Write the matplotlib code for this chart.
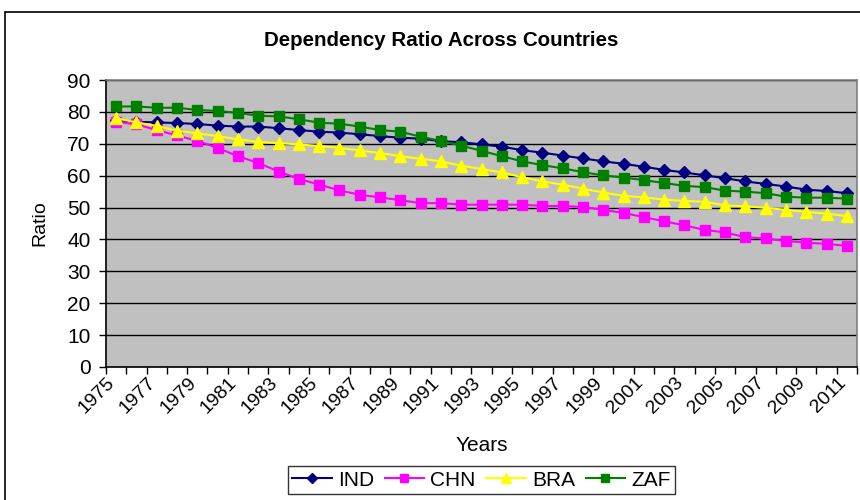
import numpy as np
import matplotlib
matplotlib.use("Agg")
import matplotlib.pyplot as plt
from matplotlib.patches import Rectangle
from matplotlib.transforms import ScaledTranslation

plt.rcParams["font.family"] = ["Liberation Sans", "DejaVu Sans"]

# ----------------------------------------------------------------------
# data (1975 .. 2011)
years = list(range(1975, 2012))
ind = [77.4, 76.9, 76.7, 76.5, 76.2, 75.7, 75.4, 75.4, 74.9, 74.3,
       73.8, 73.5, 73.0, 72.4, 71.9, 71.6, 70.8, 70.5, 69.8,
       69.1, 68.0, 67.2, 66.3, 65.4, 64.5, 63.7, 62.8, 61.8,
       61.0, 60.1, 59.2, 58.2, 57.4, 56.6, 55.6, 55.2, 54.5]
chn = [76.9, 76.1, 74.3, 72.6, 70.9, 68.7, 66.1, 64.0, 61.3, 59.0,
       57.2, 55.4, 54.0, 53.2, 52.3, 51.4, 51.4, 50.9, 50.9,
       50.9, 50.9, 50.5, 50.5, 50.2, 49.3, 48.3, 47.0, 45.7,
       44.4, 43.0, 42.2, 40.7, 40.3, 39.5, 39.0, 38.6, 38.0]
bra = [78.0, 76.7, 75.6, 74.1, 73.3, 72.4, 71.4, 70.6, 70.2, 69.8,
       69.3, 68.7, 67.9, 67.1, 66.1, 65.3, 64.5, 63.1, 62.1,
       61.0, 59.5, 58.2, 57.2, 55.9, 54.7, 53.7, 53.2, 52.5,
       52.1, 51.8, 50.7, 50.4, 49.9, 49.3, 48.6, 48.1, 47.3]
zaf = [81.7, 81.7, 81.3, 81.3, 80.6, 80.3, 79.7, 78.8, 78.6, 77.7,
       76.6, 76.3, 75.4, 74.3, 73.8, 72.2, 70.9, 69.4, 67.8,
       66.1, 64.5, 63.3, 62.3, 61.1, 60.1, 59.4, 58.6, 57.7,
       56.8, 56.4, 55.3, 55.0, 54.5, 53.4, 53.1, 53.1, 52.8]
series = [("IND", ind), ("CHN", chn), ("BRA", bra), ("ZAF", zaf)]
yticks = list(range(0, 100, 10))

# ----------------------------------------------------------------------
styles = {
    "IND": dict(color="#000080", marker="D", ms=6.5),
    "CHN": dict(color="#FF00FF", marker="s", ms=7),
    "BRA": dict(color="#FFFF00", marker="^", ms=8.5),
    "ZAF": dict(color="#008000", marker="s", ms=6.5),
}

fig = plt.figure(figsize=(8.6, 5.0), dpi=100)
# chart-area frame (cut off at right/bottom like the reference)
fig.patches.append(Rectangle((5 / 860, -0.1), 1.0, 0.1 + (1 - 12 / 500),
                             transform=fig.transFigure, fill=False,
                             ec="black", lw=1.2))

ax = fig.add_axes([106 / 860, 1 - 367 / 500, 751 / 860, 287 / 500])
ax.set_facecolor("#C0C0C0")
x = np.arange(len(years))
for name, vals in series:
    st = styles[name]
    ax.plot(x, vals, color=st["color"], lw=1.5, marker=st["marker"],
            ms=st["ms"], mfc=st["color"], mec=st["color"], label=name)

ax.set_xlim(-0.5, len(years) - 0.5)
ax.set_ylim(0, 90)
ax.set_yticks(yticks)
ax.set_yticklabels([str(v) for v in yticks], fontsize=15)
ax.tick_params(axis="y", pad=6)
ax.yaxis.grid(True, color="black", lw=1.0)
ax.set_axisbelow(True)

# category axis: ticks between categories, labels every other year
ax.set_xticks(np.arange(-0.5, len(years), 1.0))
ax.set_xticklabels([])
ax.set_xticks(x[::2], [str(y) for y in years[::2]], minor=True)
ax.tick_params(axis="x", which="minor", length=0, pad=5)
shift = ScaledTranslation(-7 / 72, 0, fig.dpi_scale_trans)
for lab in ax.get_xticklabels(minor=True):
    lab.set_rotation(45)
    lab.set_ha("right")
    lab.set_rotation_mode("anchor")
    lab.set_fontsize(14)
    lab.set_transform(lab.get_transform() + shift)
ax.tick_params(axis="both", which="major", length=5, width=1, color="black")

for side in ("top", "right"):
    ax.spines[side].set_color("#808080")
    ax.spines[side].set_linewidth(1.2)
for side in ("left", "bottom"):
    ax.spines[side].set_color("black")
    ax.spines[side].set_linewidth(1.2)

ax.set_xlabel("Years", fontsize=15, labelpad=14)
ax.set_ylabel("Ratio", fontsize=14, labelpad=14)
fig.text(441 / 860, 1 - 41 / 500, "Dependency Ratio Across Countries",
         ha="center", va="center", fontsize=14.8, fontweight="bold")

leg = ax.legend(loc="upper center", bbox_to_anchor=(0.5, -0.31), ncol=4,
                fontsize=15, frameon=True, fancybox=False, edgecolor="black",
                handlelength=1.9, columnspacing=0.5, handletextpad=0.3,
                borderpad=0.2, borderaxespad=0.5, markerscale=0.8)
leg.get_frame().set_linewidth(1.0)

fig.savefig("out.png", dpi=100)
